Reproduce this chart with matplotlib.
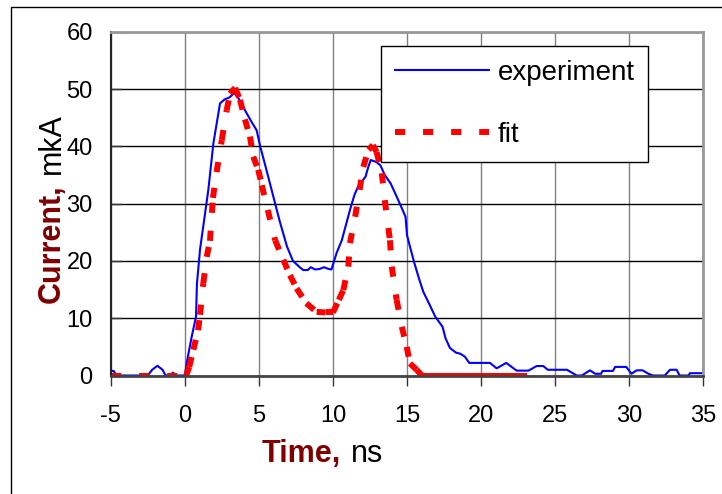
import matplotlib
matplotlib.use('Agg')
import matplotlib.pyplot as plt
from matplotlib.patches import Rectangle
from matplotlib.collections import LineCollection
from matplotlib.lines import Line2D

plt.rcParams['font.family'] = 'Liberation Sans'
plt.rcParams['axes.unicode_minus'] = False

# experiment trace (time ns, current mkA)
exp_t = [-5.0, -4.8, -4.6, -2.5, -2.2, -1.85, -1.5, -1.3, -1.0, -0.8, -0.6, 0.0,
         0.13, 0.47, 0.76, 0.82, 1.03, 1.3, 1.59, 1.93, 2.38, 2.7, 3.0, 3.35, 3.6,
         4.06, 4.5, 4.85, 5.1, 5.5, 6.0, 6.4, 6.9, 7.3, 7.8, 8.0, 8.3, 8.5, 8.8,
         9.1, 9.4, 9.7, 9.9, 10.25, 10.6, 10.9, 11.15, 11.45, 11.7, 12.0, 12.2,
         12.4, 12.55, 12.9, 13.2, 13.5, 13.9, 14.2, 14.6, 14.9, 15.0, 15.2, 15.5,
         15.8, 16.1, 16.5, 16.9, 17.4, 17.6, 17.9, 18.3, 18.6, 18.9, 19.2, 20.6,
         21.05, 21.7, 22.4, 23.2, 23.75, 24.2, 24.5, 25.8, 26.45, 26.8, 27.35,
         27.7, 28.1, 28.2, 28.9, 29.05, 29.8, 30.15, 30.5, 30.9, 31.3, 31.6, 32.4,
         32.75, 33.2, 33.4, 34.0, 34.1, 35.0]
exp_i = [0.8, 0.8, 0.0, 0.0, 1.0, 1.7, 1.0, 0.0, 0.0, 0.5, 0.0, 0.0,
         2.2, 6.8, 10.3, 16.0, 22.0, 27.0, 32.4, 40.5, 47.5, 48.2, 48.5, 49.3, 48.5,
         46.3, 44.3, 42.8, 39.9, 36.0, 31.0, 27.0, 22.5, 20.0, 18.8, 18.4, 18.4, 18.9, 18.5,
         18.6, 18.9, 18.6, 18.5, 21.4, 23.6, 26.5, 28.9, 31.5, 33.0, 34.0, 34.7,
         36.5, 37.6, 37.3, 36.7, 35.0, 33.5, 31.8, 29.5, 27.7, 24.5, 22.5, 19.6,
         17.0, 14.6, 12.5, 10.3, 8.5, 6.5, 4.8, 4.0, 3.8, 3.3, 2.2, 2.2,
         1.25, 2.2, 0.85, 0.85, 1.65, 1.65, 1.0, 1.0, 0.0, 0.0, 0.9,
         0.3, 0.3, 0.8, 0.8, 1.5, 1.5, 0.3, 0.9, 0.9, 0.3, 0.0, 0.0,
         1.0, 1.0, 0.0, 0.0, 0.4, 0.4]

# fit trace
fit_t = [-5.0, 0.1, 0.3, 0.58, 0.9, 1.03, 1.25, 1.48, 1.7, 1.9, 2.15, 2.5, 2.83,
         3.05, 3.4, 3.73, 4.06, 4.4, 4.62, 4.96, 5.2, 5.6, 6.1, 6.65, 7.1, 7.55,
         8.2, 8.9, 9.5, 10.0, 10.4, 10.7, 11.04, 11.15, 11.5, 11.8, 12.05, 12.4, 12.7,
         12.95, 13.3, 13.5, 13.85, 13.97, 14.3, 14.65, 14.98, 15.2, 15.65, 16.0,
         16.6, 17.2, 17.8, 18.4, 19.0, 19.6, 20.2, 20.8, 21.4, 22.0, 22.6, 23.1]
fit_i = [0.0, 0.0, 1.5, 4.5, 7.9, 10.6, 16.1, 20.7, 23.5, 31.0, 35.5, 41.1, 46.3,
         49.2, 50.2, 48.1, 44.7, 41.7, 38.2, 35.9, 33.2, 28.9, 23.6, 20.2, 17.5, 15.2,
         12.6, 11.1, 11.0, 11.0, 13.2, 14.9, 19.0, 23.1, 27.7, 32.4, 36.4, 39.4, 40.2,
         39.0, 35.3, 30.6, 23.6, 19.0, 13.2, 8.5, 5.0, 2.1, 1.0, 0.0,
         0.0, 0.0, 0.0, 0.0, 0.0, 0.0, 0.0, 0.0, 0.0, 0.0, 0.0, 0.0]

W, H = 722, 494
fig = plt.figure(figsize=(W / 100, H / 100), dpi=100)
ax = fig.add_axes([110.7 / W, 1 - 375.5 / H, 592.6 / W, 343.8 / H])

ax.plot(exp_t, exp_i, color='#0000ff', lw=1.5)

# dash pattern restarts on every segment, like the original chart does
red_dash = (0, (1.7, 3.0))
segs = [[(fit_t[k], fit_i[k]), (fit_t[k + 1], fit_i[k + 1])] for k in range(len(fit_t) - 1)]
lc = LineCollection(segs, colors='#ff0000', linewidths=4.3, linestyles=[red_dash],
                    capstyle='butt', joinstyle='miter')
ax.add_collection(lc)

ax.set_xlim(-5, 35)
ax.set_ylim(0, 60)
ax.set_xticks(range(-5, 36, 5))
ax.set_yticks(range(0, 61, 10))
ax.xaxis.grid(True, color='#808080', lw=1)
ax.yaxis.grid(True, color='black', lw=1)
ax.set_axisbelow(True)
ax.tick_params(axis='x', direction='out', length=7, width=1, color='#333333',
               labelsize=17, pad=14.5)
ax.tick_params(axis='y', direction='in', length=7, width=1, color='#333333',
               labelsize=17, pad=13)

ax.spines['left'].set_color('#222222')
ax.spines['left'].set_linewidth(1.5)
ax.spines['bottom'].set_color('#444444')
ax.spines['bottom'].set_linewidth(2)
for s in ['top', 'right']:
    ax.spines[s].set_color('#999999')
    ax.spines[s].set_linewidth(2)

handles = [Line2D([], [], color='#0000ff', lw=1.5),
           Line2D([], [], color='#ff0000', lw=4.3, ls=red_dash)]
leg = ax.legend(handles, ['experiment', 'fit'], loc='upper left',
                bbox_to_anchor=(0.456, 0.958), borderaxespad=0,
                fontsize=20, handlelength=3.4, handletextpad=0.3, borderpad=0.5,
                labelspacing=1.3, fancybox=False, edgecolor='black', framealpha=1)
leg.get_frame().set_linewidth(1)

# axis labels: bold dark red part + plain black unit
dark_red = '#800000'
t1 = fig.text(261.7 / W, 1 - 462 / H, 'Time,', fontsize=22, fontweight='bold',
              color=dark_red, ha='left', va='baseline')
t3 = fig.text(60 / W, 1 - 303 / H, 'Current,', fontsize=22, fontweight='bold',
              color=dark_red, rotation=90, rotation_mode='anchor',
              ha='left', va='baseline')
fig.canvas.draw()
bb1 = t1.get_window_extent()
fig.text((bb1.x1 + 10) / W, 1 - 462 / H, 'ns', fontsize=22, color='black',
         ha='left', va='baseline')
bb3 = t3.get_window_extent()
fig.text(60 / W, (bb3.y1 + 10) / H, 'mkA', fontsize=22, color='black',
         rotation=90, rotation_mode='anchor', ha='left', va='baseline')

# outer chart frame (only left and top edges are inside the picture)
fig.add_artist(Rectangle((11 / W, -0.5), 5, 0.5 + 1 - 7.3 / H, transform=fig.transFigure,
                         fill=False, ec='black', lw=1, clip_on=False))

fig.savefig('out.png', dpi=100)
